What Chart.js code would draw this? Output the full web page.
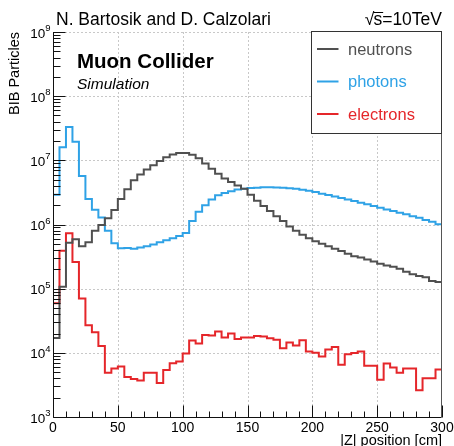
<!DOCTYPE html>
<html lang="en">
<head>
<meta charset="UTF-8">
<title>BIB Particles</title>
<style>
  html, body { margin: 0; padding: 0; background: #fff; }
  #grafico { display: block; }
</style>
</head>
<body>
<canvas id="grafico" width="454" height="446"></canvas>
<script src="https://cdn.jsdelivr.net/npm/chart.js"></script>
<script>
// bin edges along |Z| (cm), 60 bins of 5 cm
const zEdges = [0, 5, 10, 15, 20, 25, 30, 35, 40, 45, 50, 55, 60, 65, 70, 75, 80, 85, 90, 95,
  100, 105, 110, 115, 120, 125, 130, 135, 140, 145, 150, 155, 160, 165, 170, 175, 180, 185, 190, 195,
  200, 205, 210, 215, 220, 225, 230, 235, 240, 245, 250, 255, 260, 265, 270, 275, 280, 285, 290, 295, 300];

const neutrons = [1.7e4, 1.07e5, 5.2e5, 5.9e5, 4.6e5, 5.3e5, 8.0e5, 9.8e5, 1.25e6, 1.68e6,
  2.5e6, 3.55e6, 4.9e6, 6.0e6, 7.2e6, 8.4e6, 9.8e6, 1.12e7, 1.23e7, 1.3e7,
  1.3e7, 1.22e7, 1.08e7, 8.9e6, 7.4e6, 6.2e6, 5.2e6, 4.6e6, 4.05e6, 3.6e6,
  2.9e6, 2.35e6, 1.95e6, 1.62e6, 1.35e6, 1.13e6, 9.3e5, 8.0e5, 6.9e5, 6.1e5,
  5.5e5, 5.0e5, 4.6e5, 4.2e5, 3.85e5, 3.5e5, 3.2e5, 3.05e5, 2.85e5, 2.65e5,
  2.45e5, 2.3e5, 2.2e5, 2.05e5, 1.83e5, 1.68e5, 1.57e5, 1.5e5, 1.32e5, 1.27e5];

const photons = [2.9e6, 1.6e7, 3.3e7, 1.95e7, 5.7e6, 2.5e6, 1.7e6, 1.28e6, 8.0e5, 5.1e5,
  4.25e5, 4.3e5, 4.2e5, 4.4e5, 4.6e5, 4.9e5, 5.3e5, 5.7e5, 6.1e5, 6.6e5,
  7.4e5, 1.13e6, 1.58e6, 2.0e6, 2.45e6, 2.85e6, 3.1e6, 3.3e6, 3.5e6, 3.62e6,
  3.7e6, 3.75e6, 3.8e6, 3.8e6, 3.78e6, 3.75e6, 3.68e6, 3.6e6, 3.48e6, 3.35e6,
  3.2e6, 3.02e6, 2.88e6, 2.72e6, 2.58e6, 2.45e6, 2.32e6, 2.18e6, 2.06e6, 1.94e6,
  1.82e6, 1.72e6, 1.62e6, 1.52e6, 1.44e6, 1.35e6, 1.27e6, 1.18e6, 1.1e6, 1.01e6];

const electrons = [5.9e4, 3.9e5, 7.3e5, 2.6e5, 7.0e4, 2.7e4, 2.1e4, 1.28e4, 4.9e3, 5.7e3,
  6.1e3, 4.2e3, 3.9e3, 3.7e3, 4.9e3, 4.9e3, 3.4e3, 5.4e3, 6.9e3, 7.3e3,
  9.8e3, 1.55e4, 1.4e4, 1.9e4, 1.87e4, 2.15e4, 1.74e4, 2.0e4, 1.65e4, 1.74e4,
  1.74e4, 1.83e4, 1.8e4, 1.69e4, 1.6e4, 1.18e4, 1.45e4, 1.3e4, 1.57e4, 1.05e4,
  1.0e4, 8.8e3, 1.13e4, 1.23e4, 6.5e3, 9.5e3, 9.9e3, 1.05e4, 6.3e3, 6.3e3,
  3.8e3, 6.8e3, 5.9e3, 4.9e3, 5.7e3, 5.7e3, 2.6e3, 4.0e3, 4.0e3, 5.5e3];

const xTicks = [0, 50, 100, 150, 200, 250, 300];
const xMinorTicks = [10, 20, 30, 40, 60, 70, 80, 90, 110, 120, 130, 140, 160, 170, 180, 190, 210, 220, 230, 240, 260, 270, 280, 290];
const yExponents = [3, 4, 5, 6, 7, 8, 9];

const seriesNames = ['neutrons', 'photons', 'electrons'];
const seriesColors = ['#505050', '#2fa2e6', '#e5262a'];

const FONT = '"Liberation Sans", Arial, Helvetica, sans-serif';

function histPoints(vals) {
  // one point per lower bin edge, last edge repeats the last bin so the step closes at 300
  return zEdges.map((z, i) => ({ x: z, y: vals[Math.min(i, vals.length - 1)] }));
}

const rootStyle = {
  id: 'rootStyle',
  beforeDatasetsDraw(chart) {
    const { ctx, chartArea: a, scales: { x, y } } = chart;
    ctx.save();
    ctx.strokeStyle = '#c8c8c8';
    ctx.lineWidth = 1;
    ctx.setLineDash([2, 2]);
    xTicks.slice(1, -1).forEach(v => {
      const px = Math.round(x.getPixelForValue(v)) + 0.5;
      ctx.beginPath(); ctx.moveTo(px, a.top); ctx.lineTo(px, a.bottom); ctx.stroke();
    });
    yExponents.slice(1).forEach(e => {
      const py = Math.round(y.getPixelForValue(Math.pow(10, e))) + 0.5;
      ctx.beginPath(); ctx.moveTo(a.left, py); ctx.lineTo(a.right, py); ctx.stroke();
    });
    ctx.restore();
  },
  afterDatasetsDraw(chart) {
    const { ctx, chartArea: a, scales: { x, y } } = chart;
    ctx.save();

    // frame: left, bottom, right
    ctx.strokeStyle = '#111';
    ctx.lineWidth = 1;
    const L = Math.round(a.left) + 0.5, B = Math.round(a.bottom) + 0.5, R = Math.round(a.right) - 0.5;
    ctx.beginPath();
    ctx.moveTo(L, a.top); ctx.lineTo(L, B); ctx.lineTo(R, B);
    ctx.stroke();
    ctx.strokeStyle = '#555';
    ctx.beginPath(); ctx.moveTo(R, a.top); ctx.lineTo(R, B); ctx.stroke();

    // x ticks
    ctx.strokeStyle = '#111';
    xTicks.forEach(v => {
      const px = Math.round(x.getPixelForValue(v)) + 0.5;
      ctx.beginPath(); ctx.moveTo(px, B); ctx.lineTo(px, B - 12); ctx.stroke();
    });
    xMinorTicks.forEach(v => {
      const px = Math.round(x.getPixelForValue(v)) + 0.5;
      ctx.beginPath(); ctx.moveTo(px, B); ctx.lineTo(px, B - 6); ctx.stroke();
    });

    // y ticks (log)
    yExponents.forEach(e => {
      const py = Math.round(y.getPixelForValue(Math.pow(10, e))) + 0.5;
      ctx.beginPath(); ctx.moveTo(L, py); ctx.lineTo(L + 12, py); ctx.stroke();
      if (e < 9) {
        for (let m = 2; m <= 9; m++) {
          const pm = Math.round(y.getPixelForValue(m * Math.pow(10, e))) + 0.5;
          ctx.beginPath(); ctx.moveTo(L, pm); ctx.lineTo(L + 7, pm); ctx.stroke();
        }
      }
    });

    // x labels
    ctx.fillStyle = '#000';
    ctx.font = '14px ' + FONT;
    ctx.textAlign = 'center';
    ctx.textBaseline = 'alphabetic';
    xTicks.forEach(v => ctx.fillText(String(v), x.getPixelForValue(v), 432));

    // y labels 10^n
    yExponents.forEach(e => {
      const py = y.getPixelForValue(Math.pow(10, e));
      ctx.font = '9.5px ' + FONT;
      ctx.textAlign = 'right';
      const expW = ctx.measureText(String(e)).width;
      ctx.fillText(String(e), 50.5, py - 1);
      ctx.font = '13.5px ' + FONT;
      ctx.fillText('10', 50.5 - expW, py + 5.5);
    });

    // axis titles
    ctx.font = '14.5px ' + FONT;
    ctx.textAlign = 'right';
    ctx.fillText('|Z| position [cm]', a.right, 445);
    ctx.save();
    ctx.translate(19, a.top);
    ctx.rotate(-Math.PI / 2);
    ctx.textAlign = 'right';
    ctx.fillText('BIB Particles', 0, 0);
    ctx.restore();

    // header
    ctx.font = '17.5px ' + FONT;
    ctx.textAlign = 'left';
    ctx.fillText('N. Bartosik and D. Calzolari', 56, 25);
    ctx.textAlign = 'right';
    const tail = 's=10TeV';
    ctx.fillText(tail, 442, 25);
    const tailW = ctx.measureText(tail).width;
    const sW = ctx.measureText('s').width;
    const sx = 442 - tailW;
    ctx.fillText('\u221A', sx + 1, 25);
    ctx.lineWidth = 1;
    ctx.strokeStyle = '#000';
    ctx.beginPath(); ctx.moveTo(sx, 12.5); ctx.lineTo(sx + sW + 1, 12.5); ctx.stroke();

    // plot labels
    ctx.textAlign = 'left';
    ctx.font = 'bold 20.5px ' + FONT;
    ctx.fillText('Muon Collider', 77, 68);
    ctx.font = 'italic 15.5px ' + FONT;
    ctx.fillText('Simulation', 77, 89);

    // legend
    const lx0 = 311.5, ly0 = 31.5, lx1 = R, ly1 = 133.5;
    ctx.fillStyle = '#fff';
    ctx.fillRect(lx0, ly0, lx1 - lx0, ly1 - ly0);
    ctx.strokeStyle = '#333';
    ctx.strokeRect(lx0, ly0, lx1 - lx0, ly1 - ly0);
    ctx.font = '16.5px ' + FONT;
    seriesNames.forEach((name, i) => {
      const base = 54.5 + i * 32.5;
      ctx.strokeStyle = seriesColors[i];
      ctx.lineWidth = 2;
      ctx.beginPath(); ctx.moveTo(317, base - 5.5); ctx.lineTo(338.5, base - 5.5); ctx.stroke();
      ctx.fillStyle = seriesColors[i];
      ctx.fillText(name, 348, base);
    });

    ctx.restore();
  }
};

new Chart(document.getElementById('grafico'), {
  type: 'line',
  data: {
    datasets: [
      { label: seriesNames[0], data: histPoints(neutrons), borderColor: seriesColors[0] },
      { label: seriesNames[1], data: histPoints(photons), borderColor: seriesColors[1] },
      { label: seriesNames[2], data: histPoints(electrons), borderColor: seriesColors[2] }
    ].map(d => Object.assign(d, { stepped: 'before', borderWidth: 2, pointRadius: 0, fill: false, tension: 0 }))
  },
  options: {
    responsive: false,
    animation: false,
    devicePixelRatio: 1,
    layout: { padding: { left: 53, right: 12, top: 32, bottom: 29 } },
    plugins: { legend: { display: false }, tooltip: { enabled: false } },
    scales: {
      x: { type: 'linear', min: 0, max: 300, display: false },
      y: { type: 'logarithmic', min: 1e3, max: 1e9, display: false }
    }
  },
  plugins: [rootStyle]
});
</script>
</body>
</html>
